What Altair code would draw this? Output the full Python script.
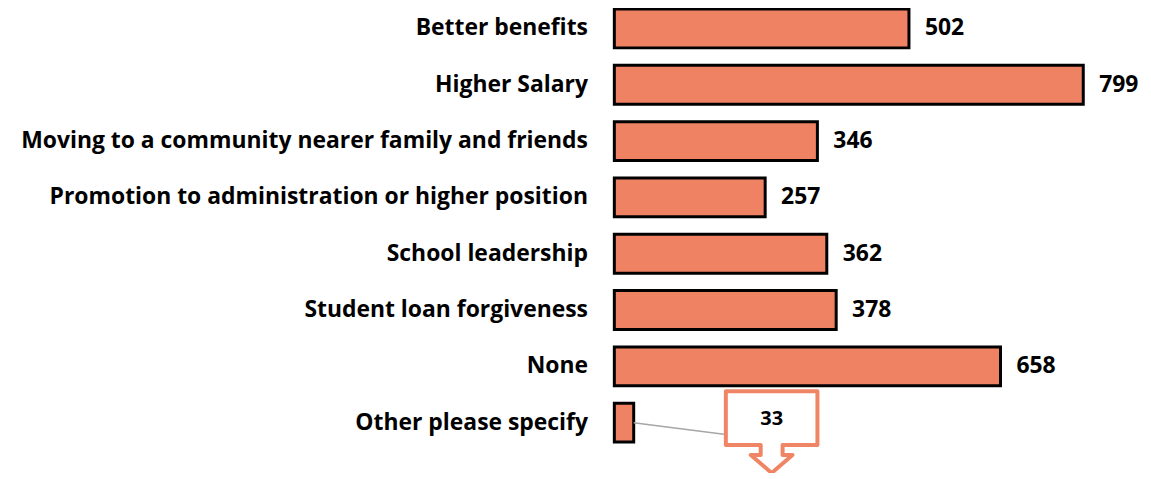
import altair as alt
import pandas as pd

categories = [
    "Better benefits",
    "Higher Salary",
    "Moving to a community nearer family and friends",
    "Promotion to administration or higher position",
    "School leadership",
    "Student loan forgiveness",
    "None",
    "Other please specify",
]
values = [502, 799, 346, 257, 362, 378, 658, 33]

df = pd.DataFrame({"category": categories, "value": values})
df["label"] = df["value"].astype(str)
main_df = df[df["category"] != "Other please specify"]
other_df = df[df["category"] == "Other please specify"]

FONT = "Open Sans"
FILL = "#F08264"

y_enc = alt.Y(
    "category:N",
    sort=categories,
    title=None,
    scale=alt.Scale(paddingInner=0.31, paddingOuter=0.0),
    axis=alt.Axis(
        labelFont=FONT,
        labelFontSize=23,
        labelFontWeight="bold",
        labelColor="#000000",
        labelPadding=27,
        ticks=False,
        domain=False,
        labelLimit=800,
    ),
)
x_enc = alt.X(
    "value:Q",
    scale=alt.Scale(domain=[0, 799], nice=False, zero=True),
    axis=None,
)

base = alt.Chart(df).encode(y=y_enc, x=x_enc)

bars = base.mark_bar(fill=FILL, stroke="#000000", strokeWidth=3)

labels = alt.Chart(main_df).mark_text(
    align="left", baseline="middle", dx=16, font=FONT, fontSize=23,
    fontWeight="bold", color="#000000"
).encode(y=y_enc, x=x_enc, text="label:N")

leader = alt.Chart(other_df).mark_rule(color="#A6A6A6", strokeWidth=1.5).encode(
    y=y_enc, x=x_enc, x2=alt.value(110), y2=alt.value(427)
)

callout_path = ("M-0.92,-0.56 L0.92,-0.56 L0.92,0.52 L0.22,0.52 L0.22,0.72 "
                "L0.42,0.72 L0,1.08 L-0.42,0.72 L-0.22,0.72 L-0.22,0.52 "
                "L-0.92,0.52 Z")
callout = alt.Chart(other_df).mark_point(
    shape=callout_path, size=10000, filled=True, fill="#FFFFFF",
    stroke="#F08565", strokeWidth=4, strokeJoin="round", opacity=1
).encode(x=alt.value(158), y=alt.value(412))

callout_text = alt.Chart(other_df).mark_text(
    align="center", baseline="middle", font=FONT, fontSize=20,
    fontWeight="bold", color="#000000"
).encode(x=alt.value(158), y=alt.value(412), text="label:N")

chart = alt.layer(bars, labels, leader, callout, callout_text).properties(
    width=471,
    height=435,
    autosize=alt.AutoSizeParams(type="none"),
    padding={"left": 609, "top": 0, "right": 60, "bottom": 30},
).configure_view(stroke=None)

chart.save("out.html", embed_options={"renderer": "svg", "actions": False})
